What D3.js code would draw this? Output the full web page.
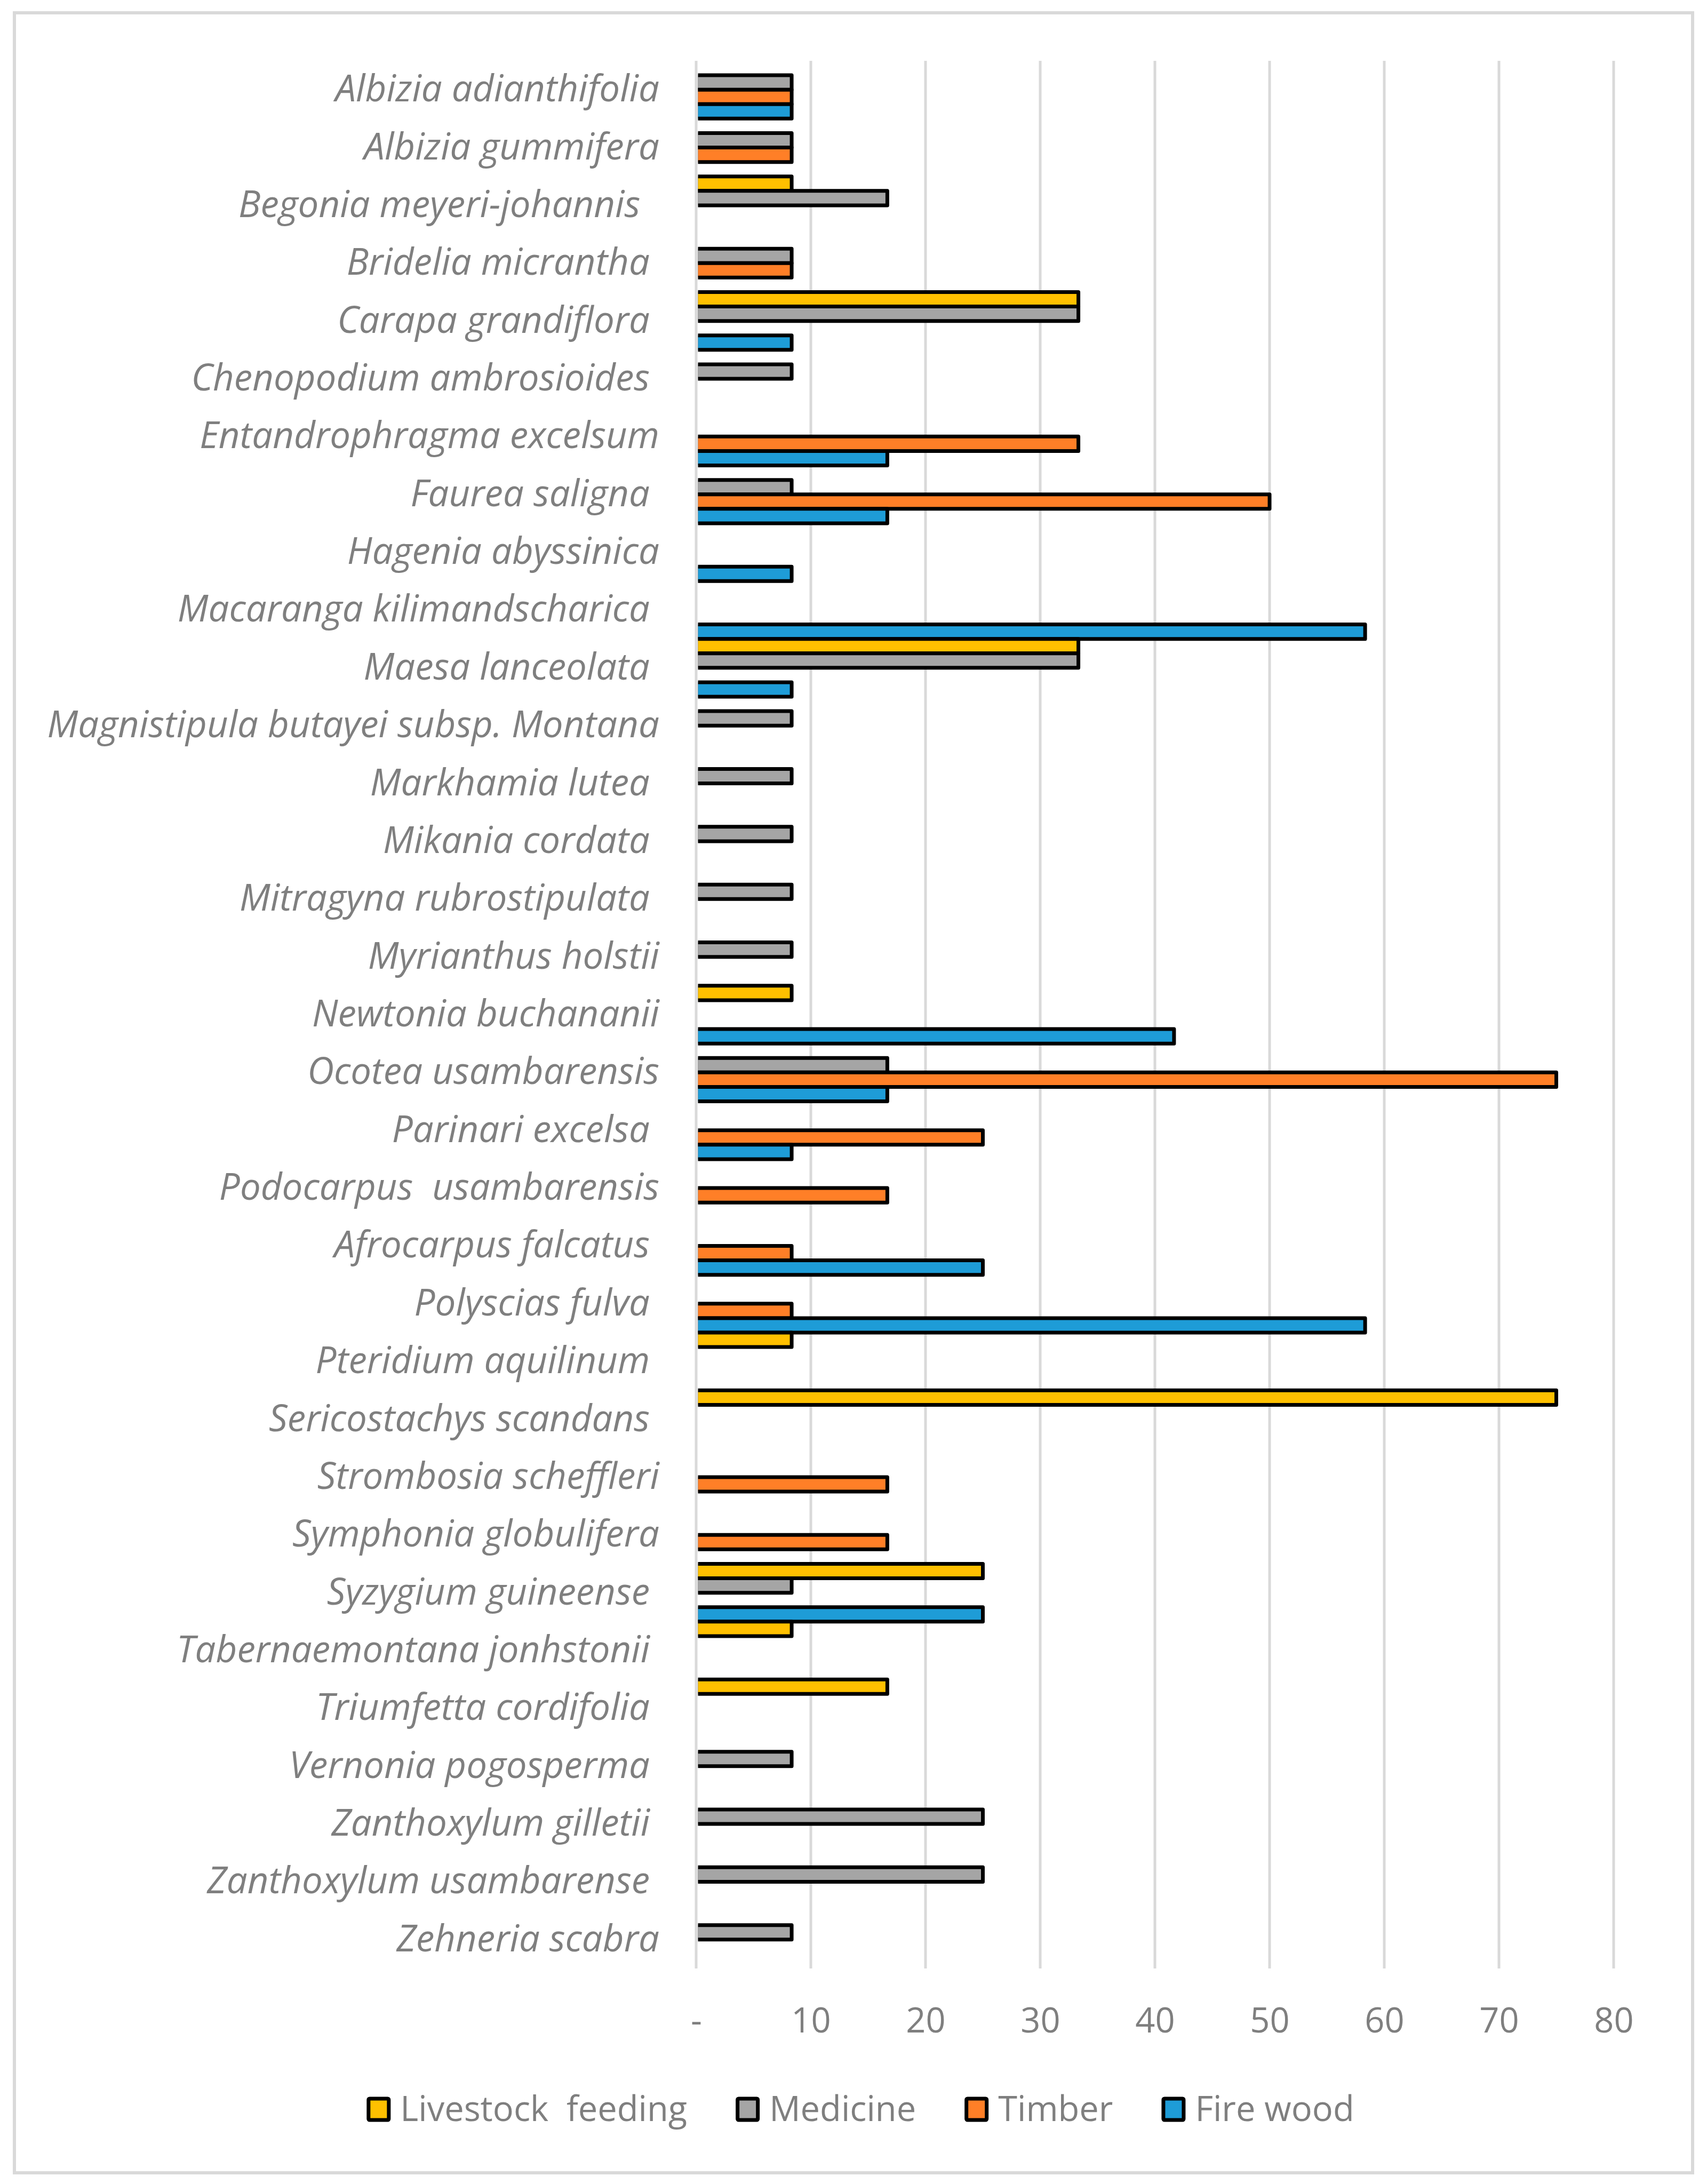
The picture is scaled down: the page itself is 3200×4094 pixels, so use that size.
<!DOCTYPE html>
<html>
<head>
<meta charset="utf-8">
<script src="https://cdn.jsdelivr.net/npm/d3@7"></script>
<style>
  body { margin: 0; background: #fff; }
  text { font-family: "Open Sans", "Noto Sans", sans-serif; fill: #7f7f7f; white-space: pre; }
</style>
</head>
<body>
<svg id="chart" width="3200" height="4094"></svg>
<script>
// species names (trailing spaces kept as in the source sheet)
const species = [
  'Albizia adianthifolia', 'Albizia gummifera', 'Begonia meyeri-johannis  ',
  'Bridelia micrantha ', 'Carapa grandiflora ', 'Chenopodium ambrosioides ',
  'Entandrophragma excelsum', 'Faurea saligna ', 'Hagenia abyssinica',
  'Macaranga kilimandscharica ', 'Maesa lanceolata ', 'Magnistipula butayei subsp. Montana',
  'Markhamia lutea ', 'Mikania cordata ', 'Mitragyna rubrostipulata ',
  'Myrianthus holstii', 'Newtonia buchananii', 'Ocotea usambarensis',
  'Parinari excelsa ', 'Podocarpus  usambarensis', 'Afrocarpus falcatus ',
  'Polyscias fulva ', 'Pteridium aquilinum ', 'Sericostachys scandans ',
  'Strombosia scheffleri', 'Symphonia globulifera', 'Syzygium guineense ',
  'Tabernaemontana jonhstonii ', 'Triumfetta cordifolia ', 'Vernonia pogosperma ',
  'Zanthoxylum gilletii ', 'Zanthoxylum usambarense ', 'Zehneria scabra'
]

const seriesNames = ['Livestock  feeding', 'Medicine', 'Timber', 'Fire wood']
const seriesColors = ['#FFC000', '#A5A5A5', '#FF7F27', '#1E9CD7']

const livestock = [0, 0, 8.33, 0, 33.33, 0, 0, 0, 0, 0, 33.33, 0, 0, 0, 0, 0, 8.33,
  0, 0, 0, 0, 0, 8.33, 75, 0, 0, 25, 8.33, 16.67, 0, 0, 0, 0]
const medicine = [8.33, 8.33, 16.67, 8.33, 33.33, 8.33, 0, 8.33, 0, 0, 33.33, 8.33, 8.33, 8.33, 8.33, 8.33, 0,
  16.67, 0, 0, 0, 0, 0, 0, 0, 0, 8.33, 0, 0, 8.33, 25, 25, 8.33]
const timber = [8.33, 8.33, 0, 8.33, 0, 0, 33.33, 50, 0, 0, 0, 0, 0, 0, 0, 0, 0,
  75, 25, 16.67, 8.33, 8.33, 0, 0, 16.67, 16.67, 0, 0, 0, 0, 0, 0, 0]
const firewood = [8.33, 0, 0, 0, 8.33, 0, 16.67, 16.67, 8.33, 58.33, 8.33, 0, 0, 0, 0, 0, 41.67,
  16.67, 8.33, 0, 25, 58.33, 0, 0, 0, 0, 25, 0, 0, 0, 0, 0, 0]

const xTicks = [0, 10, 20, 30, 40, 50, 60, 70, 80]

const values = [livestock, medicine, timber, firewood]

// plot area
const plotLeft = 1305
const plotRight = 3025
const plotTop = 114
const plotBottom = 3690
const fontSize = 65
const labelSize = 69

const svg = d3.select('#chart')

// outer chart border
svg.append('rect')
  .attr('x', 27).attr('y', 24)
  .attr('width', 3146).attr('height', 4049)
  .attr('fill', '#fff')
  .attr('stroke', '#d9d9d9')
  .attr('stroke-width', 6)

// scales
const x = d3.scaleLinear().domain([0, 80]).range([plotLeft, plotRight])
const y = d3.scaleBand().domain(species).range([plotTop, plotBottom]).padding(0)
const ySub = d3.scaleBand().domain(seriesNames).range([0, y.bandwidth()]).padding(0)

// vertical gridlines
svg.append('g')
  .selectAll('line')
  .data(xTicks)
  .enter().append('line')
  .attr('x1', d => x(d)).attr('x2', d => x(d))
  .attr('y1', plotTop).attr('y2', plotBottom)
  .attr('stroke', '#d9d9d9')
  .attr('stroke-width', 5)

// bars hide their left edge behind the axis
svg.append('clipPath').attr('id', 'plotClip')
  .append('rect')
  .attr('x', x(0) + 3.5).attr('y', 0)
  .attr('width', 3200).attr('height', 4094)

const bars = []
species.forEach(function(sp, i) {
  seriesNames.forEach(function(s, j) {
    if (values[j][i] > 0) bars.push({sp: sp, s: s, j: j, v: values[j][i]})
  })
})

svg.append('g')
  .attr('clip-path', 'url(#plotClip)')
  .selectAll('rect')
  .data(bars)
  .enter().append('rect')
  .attr('x', x(0))
  .attr('y', d => y(d.sp) + ySub(d.s))
  .attr('width', d => x(d.v) - x(0))
  .attr('height', ySub.bandwidth())
  .attr('fill', d => seriesColors[d.j])
  .attr('stroke', '#000')
  .attr('stroke-width', 7)
  .attr('stroke-linejoin', 'round')

// category labels
svg.append('g')
  .selectAll('text')
  .data(species)
  .enter().append('text')
  .attr('xml:space', 'preserve')
  .attr('x', 1236)
  .attr('y', d => y(d) + y.bandwidth() / 2 + 22)
  .attr('text-anchor', 'end')
  .style('font-size', labelSize + 'px')
  .style('font-style', 'italic')
  .text(d => d)

// x axis
const xAxis = svg.append('g')
  .attr('transform', 'translate(0,' + plotBottom + ')')
  .call(d3.axisBottom(x).tickValues(xTicks).tickSize(0)
    .tickFormat(d => d === 0 ? '-' : d))
xAxis.select('.domain').remove()
xAxis.selectAll('text')
  .attr('y', 120)
  .attr('dy', 0)
  .style('font-size', fontSize + 'px')
  .style('font-family', '"Open Sans", sans-serif')
  .attr('fill', '#7f7f7f')

// legend
const legend = svg.append('g')
const items = legend.selectAll('g')
  .data(seriesNames)
  .enter().append('g')

items.append('rect')
  .attr('x', 3.5).attr('y', 3954 - 20)
  .attr('width', 38).attr('height', 40)
  .attr('rx', 2)
  .attr('fill', (d, i) => seriesColors[i])
  .attr('stroke', '#000')
  .attr('stroke-width', 7)

items.append('text')
  .attr('xml:space', 'preserve')
  .attr('x', 63)
  .attr('y', 3976)
  .style('font-size', fontSize + 'px')
  .text(d => d)

// lay the legend out from the measured text widths, centred on the chart
let pos = 0
const offsets = []
items.each(function() {
  offsets.push(pos)
  pos += 63 + d3.select(this).select('text').node().getComputedTextLength() + 91
})
const total = pos - 91
const start = 1613 - total / 2
items.attr('transform', (d, i) => 'translate(' + (start + offsets[i]) + ',0)')
</script>
</body>
</html>
